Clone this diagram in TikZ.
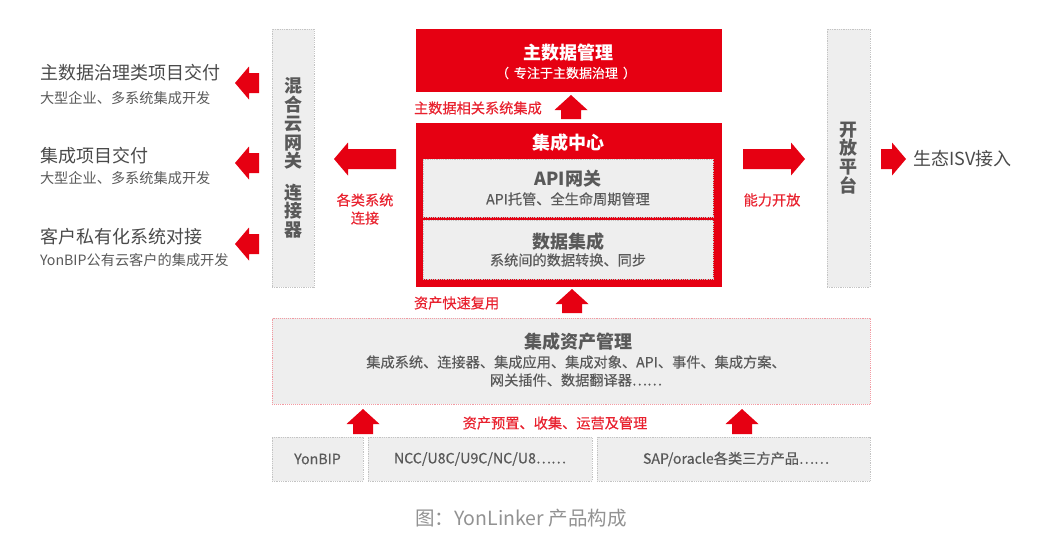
\documentclass[tikz,border=0pt]{standalone}
\usepackage{fontspec}
\setmainfont{Noto Sans CJK SC}
\newfontfamily\medfont{Noto Sans CJK SC}[FakeBold=0.35]
\definecolor{brand}{HTML}{E60012}
\definecolor{boxgray}{HTML}{EEEEEE}
\definecolor{dotgray}{HTML}{C4C4C4}
\definecolor{pinkdot}{HTML}{F29AA2}
\definecolor{txtdark}{HTML}{4A4A4A}
\definecolor{txtgray}{HTML}{595959}
\definecolor{lblred}{HTML}{E8222F}
\definecolor{captxt}{HTML}{929292}
\newcommand{\fs}[1]{\fontsize{#1}{#1}\selectfont}
\tikzset{
  pics/upar/.style={code={\fill[brand] (0,0) -- (16.5,15) -- (10,15) -- (10,#1) -- (-10,#1) -- (-10,15) -- (-16.5,15) -- cycle;}},
  pics/leftar/.style={code={\fill[brand] (0,0) -- (14,-16.5) -- (14,-10) -- (#1,-10) -- (#1,10) -- (14,10) -- (14,16.5) -- cycle;}},
  pics/rightar/.style={code={\fill[brand] (0,0) -- (-14,-16.5) -- (-14,-10) -- (-#1,-10) -- (-#1,10) -- (-14,10) -- (-14,16.5) -- cycle;}},
  grayblock/.style={fill=boxgray, draw=dotgray, densely dotted, line width=0.8pt},
  pinkblock/.style={fill=boxgray, draw=pinkdot, densely dotted, line width=0.9pt},
  redblock/.style={fill=brand},
  headtxt/.style={text=txtdark, font=\fs{18}, anchor=west},
  subtxt/.style={text=txtgray, font=\fs{14.2}, anchor=west},
  redlbl/.style={text=lblred, font=\medfont\fs{14.2}},
  boxtxt/.style={text=txtgray, font=\medfont\fs{14.2}},
  boxhead/.style={text=txtgray, font=\fs{18}\bfseries},
  vtxt/.style={text=txtgray, font=\fontsize{18}{18.75}\selectfont\bfseries, align=center},
}
\begin{document}
\begin{tikzpicture}[x=1pt,y=-1pt, every node/.style={inner sep=0pt, outer sep=0pt}]
\useasboundingbox (0,0) rectangle (1056,558);

% side bars
\node[grayblock, minimum width=42pt, minimum height=258pt] (lbar) at (293,158) {};
\node[vtxt] (lbartxt) at (lbar.center) {混\\合\\云\\网\\关\\[12.5pt]连\\接\\器};
\node[grayblock, minimum width=43pt, minimum height=258pt] (rbar) at (848.5,158) {};
\node[vtxt] (rbartxt) at (rbar.center) {开\\放\\平\\台};

% top red box
\node[redblock, minimum width=306pt, minimum height=63pt] (mdm) at (569,60.5) {};
\node[text=white, font=\fs{18}\bfseries] (mdmt) at (568,53) {主数据管理};
\node[text=white, font=\medfont\fs{13}] (mdms) at (566,73) {（\kern5pt 专注于主数据治理\kern5pt）};

% integration center
\node[redblock, minimum width=306pt, minimum height=164pt] (ic) at (569,205) {};
\node[text=white, font=\fs{18}\bfseries] (ict) at (568,143) {集成中心};
\node[grayblock, minimum width=290pt, minimum height=58pt] (api) at (568,188) {};
\node[boxhead] (apit) at (568,179) {API网关};
\node[boxtxt] (apis) at (568,199) {API托管、全生命周期管理};
\node[grayblock, minimum width=290pt, minimum height=59pt] (di) at (568,249.5) {};
\node[boxhead] (dit) at (568,242) {数据集成};
\node[boxtxt] (dis) at (568,260) {系统间的数据转换、同步};

% asset management
\node[pinkblock, minimum width=598pt, minimum height=86pt] (asset) at (571,361) {};
\node[boxhead] (assett) at (578,342) {集成资产管理};
\node[boxtxt, align=center, font=\medfont\fontsize{14.2}{18}\selectfont] (assets) at (576,371)
  {集成系统、连接器、集成应用、集成对象、API、事件、集成方案、\\网关插件、数据翻译器……};

% bottom boxes
\node[grayblock, minimum width=91pt, minimum height=44pt] (yb) at (317.5,459) {};
\node[boxtxt] (ybt) at (yb.center) {YonBIP};
\node[grayblock, minimum width=224pt, minimum height=44pt] (ncc) at (480,459) {};
\node[boxtxt] (ncct) at (ncc.center) {NCC/U8C/U9C/NC/U8……};
\node[grayblock, minimum width=273pt, minimum height=44pt] (sap) at (733.5,459) {};
\node[boxtxt] (sapt) at (736,459) {SAP/oracle各类三方产品……};

% left texts
\node[headtxt] (h1) at (40,73) {主数据治理类项目交付};
\node[subtxt] (s1) at (40,98) {大型企业、多系统集成开发};
\node[headtxt] (h2) at (40,156) {集成项目交付};
\node[subtxt] (s2) at (40,178) {大型企业、多系统集成开发};
\node[headtxt] (h3) at (40,237) {客户私有化系统对接};
\node[subtxt] (s3) at (40,260) {YonBIP公有云客户的集成开发};

% right text
\node[headtxt] (isv) at (913,159) {生态ISV接入};

% red labels
\node[redlbl, anchor=west] (l1) at (414,108) {主数据相关系统集成};
\node[redlbl, align=center, font=\medfont\fontsize{14.2}{18}\selectfont] (l2) at (365,209) {各类系统\\连接};
\node[redlbl] (l3) at (772,200) {能力开放};
\node[redlbl, anchor=west] (l4) at (414,303) {资产快速复用};
\node[redlbl] (l5) at (555,423) {资产预置、收集、运营及管理};

% arrows
\pic at (571,95) {upar=24};
\pic at (572,289) {upar=24};
\pic at (363,409) {upar=25};
\pic at (742,409) {upar=25};
\pic at (235,83) {leftar=24};
\pic at (235,163) {leftar=24};
\pic at (235,244) {leftar=24};
\pic at (334,159) {leftar=62};
\pic at (805,159) {rightar=62};
\pic at (906,159) {rightar=25};

% caption
\node[text=captxt, font=\fs{19.5}] (cap) at (521,518) {图：YonLinker 产品构成};
\end{tikzpicture}
\end{document}
